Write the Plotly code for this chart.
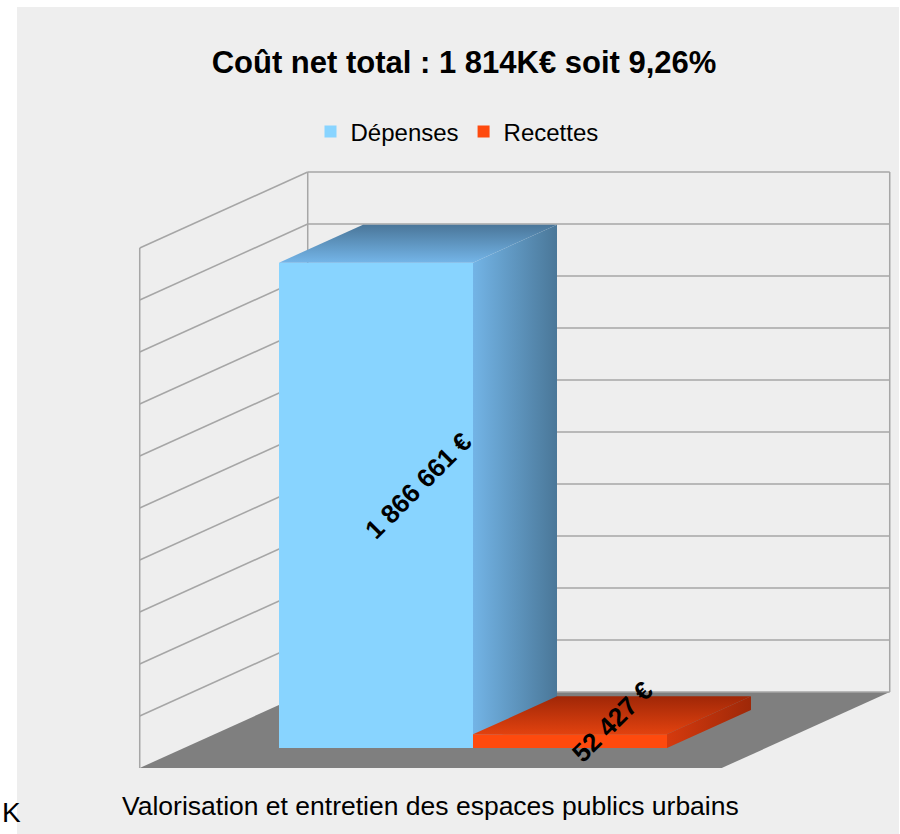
import plotly.graph_objects as go

# ---------------- data ----------------
category = "Valorisation et entretien des espaces publics urbains"
series_names = ["Dépenses", "Recettes"]
series_values = [1866661, 52427]
chart_title = "Coût net total : 1 814K€ soit 9,26%"
axis_max = 2000000
axis_step = 200000

# ---------------- style / geometry ----------------
W, H = 900, 834
M_L, M_R, M_T, M_B = 17, 1, 7, 0
PX_PER_UNIT = 194.0            # pixels per bar width
PX_PER_EURO = 52.0 / 200000.0  # pixels per euro
X0_PX, Y0_PX = 376.0, 748.0    # pixel of (x=0, value=0) on the bars' front plane
DEPTH_PX = (84.0, 38.0)        # 3D depth offset of one bar depth
DX = DEPTH_PX[0] / PX_PER_UNIT
DY = DEPTH_PX[1] / PX_PER_EURO
Z_FRONT = -20.0 / 38.0         # floor front edge depth
Z_BACK = 56.0 / 38.0           # back wall depth
CAT_LEFT, CAT_RIGHT = -0.99, 2.01
bar_pos = [0.0, 1.0]
bar_w = 1.0

FONT = "Liberation Sans, Arial, sans-serif"
front_colors = ["#88d4ff", "#fe4a0e"]
top_grad = [["#74b5e8", "#4a7699"], ["#e2420f", "#a02707"]]
side_grad = [["#73b4e6", "#4a7798"], ["#d53a0e", "#9e2808"]]
wall_color = "#a6a6a6"
floor_color = "#7f7f7f"

PW, PH = W - M_L - M_R, H - M_T - M_B
x_range = [(M_L - X0_PX) / PX_PER_UNIT, (W - M_R - X0_PX) / PX_PER_UNIT]
y_range = [(Y0_PX - (H - M_B)) / PX_PER_EURO, (Y0_PX - M_T) / PX_PER_EURO]


def P(x, v, z):
    return x + z * DX, v + z * DY


def poly(points):
    xs = [p[0] for p in points] + [points[0][0]]
    ys = [p[1] for p in points] + [points[0][1]]
    return xs, ys


fig = go.Figure()

# floor
fx, fy = poly([P(CAT_LEFT, 0, Z_FRONT), P(CAT_RIGHT, 0, Z_FRONT),
               P(CAT_RIGHT, 0, Z_BACK), P(CAT_LEFT, 0, Z_BACK)])
fig.add_trace(go.Scatter(x=fx, y=fy, fill="toself", fillcolor=floor_color,
                         mode="lines", line=dict(width=0), showlegend=False,
                         hoverinfo="skip"))

# walls & gridlines
lx, ly = [], []
ticks = list(range(0, axis_max + 1, axis_step))
for t in ticks:
    if t == 0:
        continue
    for a, b in [(P(CAT_LEFT, t, Z_BACK), P(CAT_RIGHT, t, Z_BACK)),
                 (P(CAT_LEFT, t, Z_FRONT), P(CAT_LEFT, t, Z_BACK))]:
        lx += [a[0], b[0], None]
        ly += [a[1], b[1], None]
for (xx, zz) in [(CAT_LEFT, Z_FRONT), (CAT_LEFT, Z_BACK), (CAT_RIGHT, Z_BACK)]:
    a, b = P(xx, 0, zz), P(xx, axis_max, zz)
    lx += [a[0], b[0], None]
    ly += [a[1], b[1], None]
a, b = P(CAT_LEFT, 0, Z_BACK), P(CAT_RIGHT, 0, Z_BACK)
lx += [a[0], b[0], None]
ly += [a[1], b[1], None]
fig.add_trace(go.Scatter(x=lx, y=ly, mode="lines",
                         line=dict(color=wall_color, width=1.5),
                         showlegend=False, hoverinfo="skip"))

# bars (each series on its own overlaid subplot so later bars sit in front)
for i, (name, v) in enumerate(zip(series_names, series_values)):
    xa, ya = "x%d" % (i + 2), "y%d" % (i + 2)
    l, r = bar_pos[i] - bar_w / 2, bar_pos[i] + bar_w / 2
    fig.add_trace(go.Bar(x=[bar_pos[i]], y=[v], width=[bar_w], name=name,
                         marker=dict(color=front_colors[i], line=dict(width=0)),
                         xaxis=xa, yaxis=ya))
    tx, ty = poly([P(l, v, 0), P(r, v, 0), P(r, v, 1), P(l, v, 1)])
    fig.add_trace(go.Scatter(
        x=tx, y=ty, fill="toself", mode="lines", line=dict(width=0),
        fillgradient=dict(type="vertical", start=v, stop=v + DY,
                          colorscale=[[0, top_grad[i][0]], [1, top_grad[i][1]]]),
        showlegend=False, hoverinfo="skip", xaxis=xa, yaxis=ya))
    sx, sy = poly([P(r, 0, 0), P(r, v, 0), P(r, v, 1), P(r, 0, 1)])
    fig.add_trace(go.Scatter(
        x=sx, y=sy, fill="toself", mode="lines", line=dict(width=0),
        fillgradient=dict(type="horizontal", start=r, stop=r + DX,
                          colorscale=[[0, side_grad[i][0]], [1, side_grad[i][1]]]),
        showlegend=False, hoverinfo="skip", xaxis=xa, yaxis=ya))
    cx, cy = P(bar_pos[i], v / 2, 0.5)
    fig.add_annotation(x=cx, y=cy, xref="x", yref="y", showarrow=False,
                       text="<b>" + "{:,}".format(v).replace(",", " ") + " €</b>",
                       textangle=-45, font=dict(family=FONT, size=26, color="black"))

# category label
cat_x = P((CAT_LEFT + CAT_RIGHT) / 2, 0, Z_FRONT)[0]
fig.add_annotation(x=cat_x, xref="x", y=(H - 806) / PH, yref="paper",
                   text=category, showarrow=False, yanchor="middle",
                   font=dict(family=FONT, size=26.5, color="black"))

# stray text at the left edge of the source image
fig.add_annotation(x=(0 - M_L) / PW, xref="paper", xanchor="left",
                   y=(H - 812) / PH, yref="paper", yanchor="middle",
                   text="K", showarrow=False,
                   font=dict(family=FONT, size=28, color="black"))

axis_common = dict(visible=False, showgrid=False, zeroline=False, fixedrange=True)
fig.update_layout(
    width=W, height=H,
    margin=dict(l=M_L, r=M_R, t=M_T, b=M_B, pad=0),
    paper_bgcolor="white", plot_bgcolor="#eeeeee",
    font=dict(family=FONT, color="black"),
    title=dict(text="<b>" + chart_title + "</b>", x=464 / W, xanchor="center",
               y=1 - 62 / H, yanchor="middle", xref="container", yref="container",
               font=dict(family=FONT, size=31, color="black")),
    legend=dict(orientation="h", x=(457 - M_L) / PW, xanchor="center",
                y=(H - 132) / PH, yanchor="middle",
                font=dict(family=FONT, size=24), bgcolor="rgba(0,0,0,0)",
                itemclick=False, tracegroupgap=0),
    xaxis=dict(range=x_range, **axis_common),
    yaxis=dict(range=y_range, **axis_common),
    xaxis2=dict(range=x_range, overlaying="x", **axis_common),
    yaxis2=dict(range=y_range, overlaying="y", **axis_common),
    xaxis3=dict(range=x_range, overlaying="x", **axis_common),
    yaxis3=dict(range=y_range, overlaying="y", **axis_common),
    showlegend=True,
)

fig.write_html("out.html", config={"displayModeBar": False},
               post_script="document.body.style.margin='0';document.body.style.padding='0';")
